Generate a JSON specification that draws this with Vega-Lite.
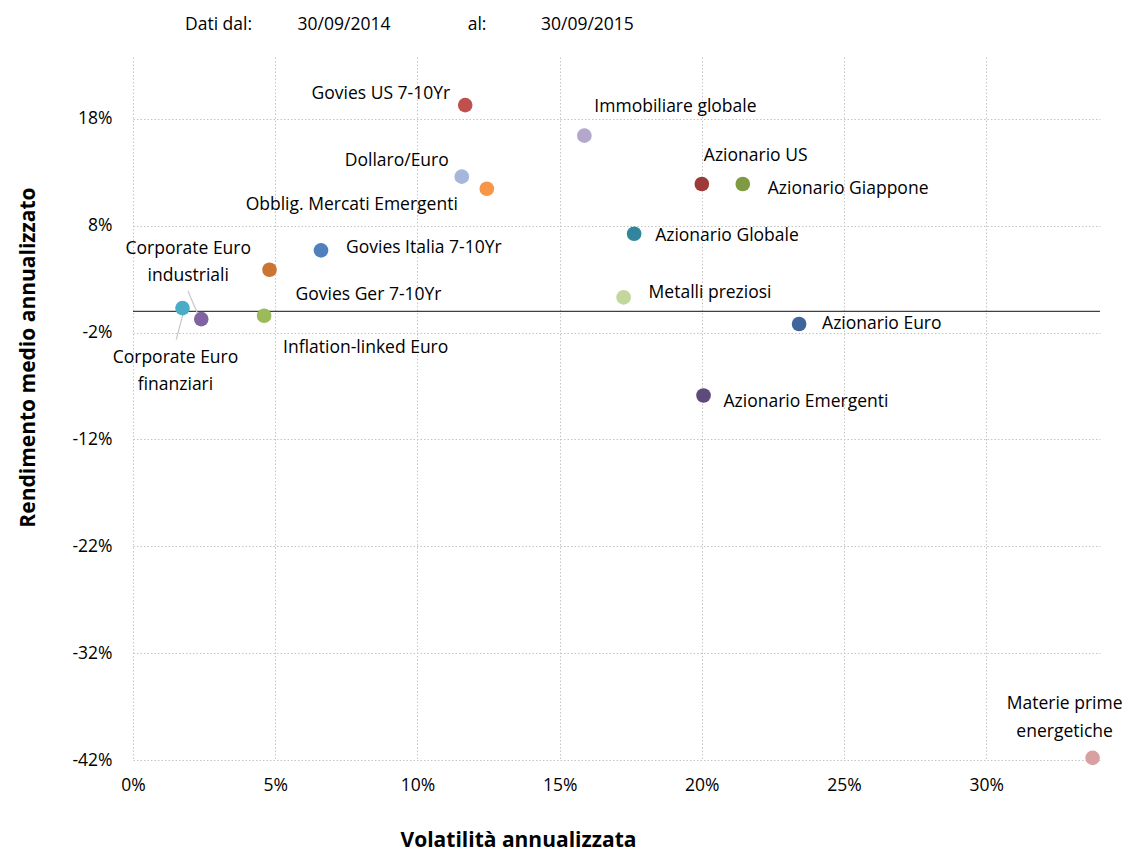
{
  "$schema": "https://vega.github.io/schema/vega-lite/v6.json",
  "autosize": {"type": "none"},
  "width": 967,
  "height": 703,
  "padding": {"left": 133, "top": 57, "right": 34, "bottom": 92},
  "background": "white",
  "config": {
    "font": "Open Sans",
    "view": {"stroke": null},
    "axis": {"labelFont": "Open Sans", "labelFontSize": 17.5, "labelColor": "#000000", "titleFont": "Open Sans", "titleColor": "#000000"}
  },
  "title": {
    "text": "Dati dal:\u00a0\u00a0\u00a0\u00a0\u00a0\u00a0\u00a0\u00a0\u00a0\u00a030/09/2014\u00a0\u00a0\u00a0\u00a0\u00a0\u00a0\u00a0\u00a0\u00a0\u00a0\u00a0\u00a0\u00a0\u00a0\u00a0\u00a0\u00a0al:\u00a0\u00a0\u00a0\u00a0\u00a0\u00a0\u00a0\u00a0\u00a0\u00a0\u00a0\u00a030/09/2015",
    "anchor": "start",
    "frame": "group",
    "dx": 52,
    "offset": 24,
    "fontSize": 17.5,
    "fontWeight": "normal",
    "color": "#000000",
    "font": "Open Sans"
  },
  "datasets": {
    "assets": [
      {"name": "Govies US 7-10Yr", "label": "Govies US 7-10Yr", "vol": 11.68, "ret": 19.3},
      {"name": "Immobiliare globale", "label": "Immobiliare globale", "vol": 15.87, "ret": 16.44},
      {"name": "Dollaro/Euro", "label": "Dollaro/Euro", "vol": 11.56, "ret": 12.6},
      {"name": "Obblig. Mercati Emergenti", "label": "Obblig. Mercati Emergenti", "vol": 12.44, "ret": 11.47},
      {"name": "Azionario US", "label": "Azionario US", "vol": 20.0, "ret": 11.91},
      {"name": "Azionario Giappone", "label": "Azionario Giappone", "vol": 21.44, "ret": 11.91},
      {"name": "Azionario Globale", "label": "Azionario Globale", "vol": 17.62, "ret": 7.26},
      {"name": "Govies Italia 7-10Yr", "label": "Govies Italia 7-10Yr", "vol": 6.61, "ret": 5.7},
      {"name": "Govies Ger 7-10Yr", "label": "Govies Ger 7-10Yr", "vol": 4.8, "ret": 3.89},
      {"name": "Inflation-linked Euro", "label": "Inflation-linked Euro", "vol": 4.61, "ret": -0.42},
      {"name": "Corporate Euro finanziari", "label": "Corporate Euro\nfinanziari", "vol": 1.74, "ret": 0.3},
      {"name": "Corporate Euro industriali", "label": "Corporate Euro\nindustriali", "vol": 2.4, "ret": -0.73},
      {"name": "Metalli preziosi", "label": "Metalli preziosi", "vol": 17.25, "ret": 1.3},
      {"name": "Azionario Euro", "label": "Azionario Euro", "vol": 23.42, "ret": -1.19},
      {"name": "Azionario Emergenti", "label": "Azionario Emergenti", "vol": 20.06, "ret": -7.88},
      {"name": "Materie prime energetiche", "label": "Materie prime\nenergetiche", "vol": 33.74, "ret": -41.8}
    ],
    "leaders": [
      {"name": "Corporate Euro industriali", "vol": 1.93, "ret": 1.92, "vol2": 2.33, "ret2": -0.6},
      {"name": "Corporate Euro finanziari", "vol": 1.77, "ret": -0.14, "vol2": 1.52, "ret2": -2.66}
    ],
    "zero": [{"ret": 0}]
  },
  "encoding": {
    "x": {
      "field": "vol", "type": "quantitative",
      "scale": {"domain": [0, 34], "nice": false, "zero": false},
      "axis": {
        "title": "Volatilità annualizzata",
        "titleFontSize": 21, "titleFontWeight": "bold",
        "titleX": 385, "titleY": 80, "titleBaseline": "middle", "titleAlign": "center",
        "values": [0, 5, 10, 15, 20, 25, 30],
        "labelExpr": "datum.value + '%'",
        "labelFlush": false,
        "domain": false, "ticks": false, "tickSize": 0, "labelPadding": 16,
        "grid": true, "gridDash": [1.5, 2], "gridColor": "#C4C4C4", "gridWidth": 1
      }
    },
    "y": {
      "field": "ret", "type": "quantitative",
      "scale": {"domain": [-42, 23.8], "nice": false, "zero": false},
      "axis": {
        "title": "Rendimento medio annualizzato",
        "titleFontSize": 21, "titleFontWeight": "bold",
        "titleX": -105, "titleY": 300, "titleAngle": -90, "titleBaseline": "middle", "titleAlign": "center",
        "values": [-42, -32, -22, -12, -2, 8, 18],
        "labelExpr": "datum.value + '%'",
        "labelFlush": false,
        "domain": false, "ticks": false, "tickSize": 0, "labelPadding": 21,
        "grid": true, "gridDash": [1.5, 2], "gridColor": "#C4C4C4", "gridWidth": 1
      }
    }
  },
  "layer": [
    {
      "data": {"name": "zero"},
      "mark": {"type": "rule", "color": "#404040", "strokeWidth": 1.3},
      "encoding": {"y": {"field": "ret", "type": "quantitative"}, "x": null}
    },
    {
      "data": {"name": "leaders"},
      "mark": {"type": "rule", "color": "#C8C8C8", "strokeWidth": 1.2},
      "encoding": {
        "x2": {"field": "vol2"},
        "y2": {"field": "ret2"}
      }
    },
    {
      "data": {"name": "assets"},
      "layer": [
        {
          "mark": {"type": "circle", "size": 215, "opacity": 1},
          "encoding": {
            "color": {
              "field": "name", "type": "nominal", "legend": null,
              "scale": {
                "domain": ["Govies US 7-10Yr", "Immobiliare globale", "Dollaro/Euro", "Obblig. Mercati Emergenti", "Azionario US", "Azionario Giappone", "Azionario Globale", "Govies Italia 7-10Yr", "Govies Ger 7-10Yr", "Inflation-linked Euro", "Corporate Euro finanziari", "Corporate Euro industriali", "Metalli preziosi", "Azionario Euro", "Azionario Emergenti", "Materie prime energetiche"],
                "range": ["#C0504D", "#B3A7CB", "#A5B8DB", "#F79646", "#9C3B38", "#7E9A43", "#31859C", "#4F81BD", "#CC7432", "#9BBB59", "#4BACC6", "#8064A2", "#C3D69B", "#3F659A", "#604A7B", "#D9A0A0"]
              }
            }
          }
        },
        {"transform": [{"filter": "datum.name === 'Govies US 7-10Yr'"}], "mark": {"type": "text", "align": "right", "baseline": "middle", "dx": -15, "dy": -11, "fontSize": 17.5, "color": "#000"}, "encoding": {"text": {"field": "label"}}},
        {"transform": [{"filter": "datum.name === 'Immobiliare globale'"}], "mark": {"type": "text", "align": "left", "baseline": "middle", "dx": 10, "dy": -29, "fontSize": 17.5, "color": "#000"}, "encoding": {"text": {"field": "label"}}},
        {"transform": [{"filter": "datum.name === 'Dollaro/Euro'"}], "mark": {"type": "text", "align": "right", "baseline": "middle", "dx": -13, "dy": -16, "fontSize": 17.5, "color": "#000"}, "encoding": {"text": {"field": "label"}}},
        {"transform": [{"filter": "datum.name === 'Obblig. Mercati Emergenti'"}], "mark": {"type": "text", "align": "right", "baseline": "middle", "dx": -29, "dy": 16, "fontSize": 17.5, "color": "#000"}, "encoding": {"text": {"field": "label"}}},
        {"transform": [{"filter": "datum.name === 'Azionario US'"}], "mark": {"type": "text", "align": "left", "baseline": "middle", "dx": 2, "dy": -28, "fontSize": 17.5, "color": "#000"}, "encoding": {"text": {"field": "label"}}},
        {"transform": [{"filter": "datum.name === 'Azionario Giappone'"}], "mark": {"type": "text", "align": "left", "baseline": "middle", "dx": 25, "dy": 5, "fontSize": 17.5, "color": "#000"}, "encoding": {"text": {"field": "label"}}},
        {"transform": [{"filter": "datum.name === 'Azionario Globale'"}], "mark": {"type": "text", "align": "left", "baseline": "middle", "dx": 21, "dy": 2, "fontSize": 17.5, "color": "#000"}, "encoding": {"text": {"field": "label"}}},
        {"transform": [{"filter": "datum.name === 'Govies Italia 7-10Yr'"}], "mark": {"type": "text", "align": "left", "baseline": "middle", "dx": 25, "dy": -2, "fontSize": 17.5, "color": "#000"}, "encoding": {"text": {"field": "label"}}},
        {"transform": [{"filter": "datum.name === 'Govies Ger 7-10Yr'"}], "mark": {"type": "text", "align": "left", "baseline": "middle", "dx": 26, "dy": 25, "fontSize": 17.5, "color": "#000"}, "encoding": {"text": {"field": "label"}}},
        {"transform": [{"filter": "datum.name === 'Inflation-linked Euro'"}], "mark": {"type": "text", "align": "left", "baseline": "middle", "dx": 19, "dy": 32, "fontSize": 17.5, "color": "#000"}, "encoding": {"text": {"field": "label"}}},
        {"transform": [{"filter": "datum.name === 'Corporate Euro finanziari'"}], "mark": {"type": "text", "align": "center", "baseline": "middle", "dx": -7, "dy": 50, "fontSize": 17.5, "lineBreak": "\n", "lineHeight": 27, "color": "#000"}, "encoding": {"text": {"field": "label"}}},
        {"transform": [{"filter": "datum.name === 'Corporate Euro industriali'"}], "mark": {"type": "text", "align": "center", "baseline": "middle", "dx": -13, "dy": -70, "fontSize": 17.5, "lineBreak": "\n", "lineHeight": 27, "color": "#000"}, "encoding": {"text": {"field": "label"}}},
        {"transform": [{"filter": "datum.name === 'Metalli preziosi'"}], "mark": {"type": "text", "align": "left", "baseline": "middle", "dx": 25, "dy": -4, "fontSize": 17.5, "color": "#000"}, "encoding": {"text": {"field": "label"}}},
        {"transform": [{"filter": "datum.name === 'Azionario Euro'"}], "mark": {"type": "text", "align": "left", "baseline": "middle", "dx": 23, "dy": 0, "fontSize": 17.5, "color": "#000"}, "encoding": {"text": {"field": "label"}}},
        {"transform": [{"filter": "datum.name === 'Azionario Emergenti'"}], "mark": {"type": "text", "align": "left", "baseline": "middle", "dx": 20, "dy": 7, "fontSize": 17.5, "color": "#000"}, "encoding": {"text": {"field": "label"}}},
        {"transform": [{"filter": "datum.name === 'Materie prime energetiche'"}], "mark": {"type": "text", "align": "center", "baseline": "middle", "dx": -28, "dy": -54, "fontSize": 17.5, "lineBreak": "\n", "lineHeight": 28, "color": "#000"}, "encoding": {"text": {"field": "label"}}}
      ]
    }
  ]
}
